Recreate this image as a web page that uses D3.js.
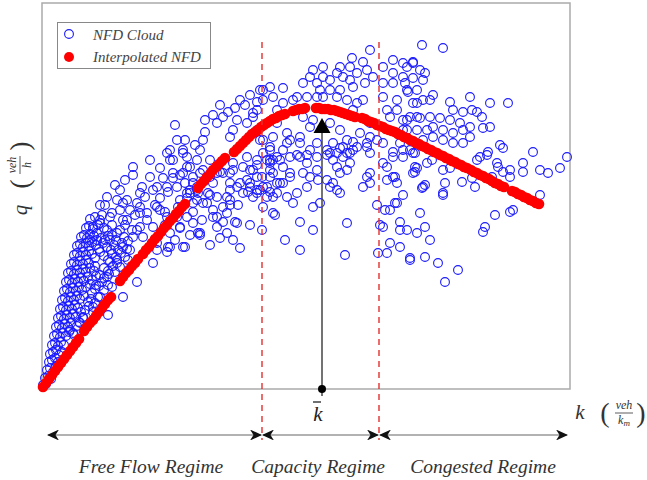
<!DOCTYPE html>
<html>
<head>
<meta charset="utf-8">
<script src="https://cdn.jsdelivr.net/npm/d3@7"></script>
<style>
  body { margin: 0; background: #fff; }
  text { font-family: "Liberation Serif", "DejaVu Serif", serif; font-style: italic; }
</style>
</head>
<body>
<svg width="647" height="480"></svg>
<script>
// density k (veh/km) and flow q (veh/h) of the NFD cloud
const cloud = [
  [1,40],[4,50],[3,110],[6,130],[9,100],[5,190],[8,210],[11,170],[14,230],[7,270],[10,290],[13,310],[16,270],
  [8,350],[11,370],[14,390],[17,340],[20,370],[10,440],[13,460],[16,430],[19,470],[22,440],[12,530],[15,550],
  [18,520],[21,560],[24,530],[27,570],[14,620],[17,640],[20,610],[23,650],[26,620],[29,660],[16,710],[19,730],
  [22,700],[25,740],[28,710],[31,750],[34,720],[18,800],[21,820],[24,790],[27,830],[30,800],[33,840],[36,810],
  [43,790],[20,890],[23,910],[26,880],[29,920],[32,890],[35,930],[38,900],[46,870],[22,980],[25,1000],[28,970],
  [31,1010],[34,980],[37,1020],[40,990],[50,960],[24,1070],[27,1090],[30,1060],[33,1100],[36,1070],[39,1110],
  [42,1080],[54,1040],[60,1070],[26,1160],[29,1180],[32,1150],[35,1190],[38,1160],[41,1200],[44,1170],[58,1140],
  [73,1170],[29,1250],[32,1270],[35,1240],[38,1280],[41,1250],[44,1290],[47,1260],[53,1230],[68,1270],[78,1220],
  [32,1340],[35,1360],[38,1330],[41,1370],[44,1340],[47,1380],[50,1350],[58,1370],[70,1350],[83,1320],[35,1430],
  [38,1450],[41,1420],[44,1460],[47,1430],[50,1470],[54,1440],[61,1460],[76,1390],[39,1520],[42,1540],[45,1510],
  [48,1550],[52,1530],[59,1510],[66,1530],[44,1610],[47,1630],[51,1600],[56,1640],[62,1610],[48,1700],[53,1720],
  [58,1690],[28,590],[32,540],[35,630],[37,670],[41,710],[39,770],[47,830],[51,770],[42,930],[49,900],[53,860],
  [56,920],[44,1020],[48,1050],[53,1000],[57,1030],[62,990],[66,1040],[46,1120],[50,1090],[54,1130],[62,1110],
  [67,1150],[48,1210],[52,1180],[62,1210],[66,1180],[71,1230],[75,1260],[53,1310],[62,1330],[66,1290],[74,1320],
  [79,1360],[86,1290],[57,1400],[65,1420],[69,1390],[72,1440],[80,1460],[85,1400],[63,1490],[70,1540],[74,1490],
  [82,1520],[86,1480],
  [91,2220],[91,2140],[65,1920],[78,1990],[75,1890],[85,1890],[98,1960],[108,2120],[111,1990],[121,2110],[131,2110],
  [126,1970],[135,2020],[118,1910],[98,1820],[105,1760],[88,1790],[78,1790],[70,1760],[60,1740],[51,1620],[48,1490],
  [55,1560],[65,1590],[68,1490],[78,1590],[85,1690],[90,1590],[98,1620],[101,1520],[118,1790],[125,1720],[138,1620],
  [141,1420],[126,1420],[115,1390],[111,1260],[95,1070],[81,920],[66,740],[88,1390],[75,1290],[65,1120],[70,1020],
  [58,920],[51,820],[41,720],[38,660],[31,560],[125,2360],[131,2290],[141,2360],[145,2220],[151,2120],[155,1990],
  [151,1860],[151,1770],[156,1560],[136,1820],
  [133,2640],[81,1860],[95,1860],[100,2020],[115,2020],[125,2020],[128,2290],[128,2390],[135,2490],[141,2390],
  [145,2320],[148,2220],[155,2290],[158,2390],[161,2490],[163,2570],[171,2740],[175,2660],[181,2720],[188,2520],
  [191,2590],[195,2690],[193,2810],[203,2840],[211,2760],[205,2660],[215,2590],[221,2990],[228,3020],[221,2890],
  [231,2920],[241,3010],[241,2860],[235,2790],[221,2490],[228,2390],[241,2390],[231,2290],[241,2220],[228,2120],
  [238,2060],[221,2020],[215,1960],[208,2020],[201,1960],[195,2020],[188,1990],[181,2160],[191,2190],[201,2220],
  [211,2190],[175,2160],[168,2120],[161,2190],[148,1960],[155,1890],[161,1860],[171,1790],[175,1720],[185,1760],
  [195,1660],[185,1560],[175,1620],[158,1560],[145,1960],[138,1890],[135,1720],[138,1610],[128,1560],[128,1420],
  [125,1370],[115,1460],[111,1620],[105,1690],[98,1760],[115,1820],[123,1770],[95,1590],[81,1690],[68,1720],
  [58,1660],[55,1490],[81,1420],[91,1520],[75,1560],[198,1410],[143,1420],[231,1760],[191,1490],[221,1820],
  [185,1920],[166,1960],[245,2560],[235,2660],[245,2460],[228,2260],[131,2160],[155,2020],
  [380,3440],[328,3390],[310,3310],[321,3270],[308,3220],[298,3220],[281,3220],[271,3190],[268,3120],[281,3120],
  [288,3090],[295,3160],[301,3120],[308,3090],[315,3160],[325,3190],[331,3120],[323,3060],[311,3020],[298,2990],
  [288,2990],[278,2990],[275,3060],[261,3060],[255,2920],[265,2920],[275,2920],[281,2920],[295,2920],[305,2890],
  [315,2860],[321,2890],[311,2790],[251,2890],[215,2790],[211,2720],[341,3220],[351,3290],[361,3260],[371,3260],
  [378,3190],[351,3160],[361,3120],[381,3090],[341,3060],[351,3060],[365,2990],[375,2990],[341,2920],[355,2890],
  [381,2890],[371,2860],[345,2790],[355,2790],[348,2720],[365,2690],[375,2720],[218,2490],[231,2520],[258,2520],
  [268,2620],[261,2720],[271,2690],[288,2660],[298,2590],[305,2490],[318,2560],[328,2520],[335,2490],[301,2420],
  [291,2460],[285,2390],[275,2460],[268,2390],[258,2460],[248,2490],[228,2420],[221,2360],[215,2290],[228,2290],
  [238,2290],[248,2320],[258,2320],[265,2260],[275,2320],[288,2360],[291,2290],[301,2320],[308,2360],[315,2420],
  [328,2360],[308,2260],[325,2460],[275,2190],[268,2120],[261,2160],[248,2120],[241,2060],[235,2060],[225,2020],
  [215,1990],[225,1920],[235,1960],[245,1920],[255,1960],[265,2020],[285,2090],[288,2020],[298,1960],[295,2220],
  [305,2190],[325,2120],[328,2060],[251,1860],[278,1860],[271,1820],[258,1670],[271,1590],[305,1660],[335,1840],
  [343,1790],[348,1790],[355,1860],[361,1940],[351,2120],[345,2090],[375,2210],[371,2160],[381,2020],[378,1760],
  [341,1620],[358,1590],[365,1590],[375,1560],[348,1460],[336,1360],[345,1360],[368,1290],[383,1320],[351,2320],
  [361,2320],[368,2390],[355,2560],[341,2460],[341,2260],[345,2220],[385,2260],[385,2590],[361,2590],[381,2490],
  [328,2660],[218,2990],[228,2190],[215,2120],[208,2060],
  [401,3410],[371,3270],[365,3220],[383,3160],[371,3110],[363,3060],[366,2970],[391,2940],[388,2890],[375,2860],
  [408,2870],[428,2920],[448,2860],[466,2860],[411,2790],[421,2770],[430,2790],[435,2770],[440,2720],[448,2620],
  [441,2610],[428,2620],[418,2660],[408,2690],[398,2710],[388,2720],[378,2710],[368,2720],[361,2690],[391,2620],
  [401,2590],[411,2560],[421,2590],[428,2520],[421,2460],[411,2460],[401,2490],[391,2520],[375,2590],[365,2590],
  [358,2460],[373,2360],[361,2390],[390,2290],[401,2190],[408,2210],[438,2320],[446,2370],[458,2440],[461,2410],
  [455,2260],[456,2220],[468,2190],[468,2120],[481,2260],[491,2370],[481,2170],[498,2190],[506,2160],[518,2210],
  [525,2320],[450,2120],[430,2110],[420,2070],[433,2020],[403,2060],[401,1940],[383,2040],[380,2010],[373,2220],
  [373,2170],[498,1940],[471,1790],[453,1740],[443,1620],[441,1570],[383,1620],[388,1490],[368,1310],[396,1260],
  [416,1190],[358,1670],[358,1420],
  [158,1540],[160,1690],[181,1670],[193,1670],[171,1720],[188,1840],[196,1840],[181,1820],[165,1860],[145,1910],
  [233,1740],[231,1920],[295,1990],[291,2060],[276,2090],[298,2160],[321,2020],[228,1970],[218,1990],[211,1920],
  [206,1970],[220,2120],[231,2160],[248,2160],[205,2090],[198,2060],[188,2060],[188,2160],[178,2170],[171,2060],
  [168,1940],[156,1960],[148,1990],[151,2060],[143,2060],[141,2160],[158,2160],[188,1890],[175,1920],[145,1720],
  [151,1660],[191,2260],[205,2320],[208,2190],[215,2240],[225,2290],[235,2320],[255,2340],[265,2340],[285,2340],
  [295,2360],[305,2360],[311,2390],[325,2420],[311,2470],[298,2410],
  [353,1860],[355,2060],[353,2120],[401,1960],[403,1070],[468,1770],[328,2160],[445,2340],[461,2170],[435,2290],
  [371,2360],[351,2370],[338,1640],
  [73,2040],[83,2090],[63,1840],[103,1920],[113,1840],[93,1740],[83,1640],[108,2290],[118,2210],[143,2490],
  [153,2440],[163,2690],[178,2840],[186,2770],[198,2890],[208,2940],[215,2870],[168,2290],[138,2140],[123,1640],
  [133,1490],[148,1540],[168,1440],[178,1510],[208,1640],[220,1590],[243,1490],[258,1390],[303,1340],[70,1640],
  [58,1840]
];

// interpolated NFD points (k, q)
const nfd = [
  [1,20],[4,60],[7,100],
  [10,140],[13,180],[16,220],[19,260],[22,300],[25,340],[28,380],[31,420],[34,460],[37,500],
  [42,580],[45,620],[48,660],[51,690],[54,730],[57,770],[60,810],[63,850],[66,890],[69,920],
  [78,1080],[81,1120],[84,1160],[87,1190],[90,1230],[93,1260],[96,1300],
  [101,1350],[104,1390],[107,1420],[110,1460],[113,1500],[116,1530],[119,1570],[122,1610],[125,1640],[128,1680],
  [131,1710],[134,1750],[137,1780],[140,1820],[143,1850],
  [156,2010],[159,2050],[162,2080],[165,2120],[168,2150],[171,2190],[174,2220],[177,2250],[180,2280],[183,2310],
  [192,2370],[195,2400],[198,2430],[201,2460],[204,2490],[207,2520],[210,2550],[213,2570],[216,2590],[219,2620],
  [222,2640],[225,2660],[228,2680],[231,2700],[234,2710],[237,2730],[240,2740],[243,2750],
  [251,2780],[254,2790],[257,2800],[260,2800],[263,2810],
  [274,2810],[277,2810],[280,2800],[283,2800],[286,2800],[289,2790],[292,2790],[295,2780],[298,2770],[301,2760],
  [304,2750],[307,2740],[310,2730],[313,2720],
  [320,2710],[323,2700],[326,2680],[329,2670],[332,2660],[335,2640],[338,2630],[341,2620],[344,2600],[347,2590],
  [350,2580],[353,2570],[356,2550],[359,2540],[362,2520],[365,2510],[368,2490],[371,2480],[374,2460],[377,2450],
  [380,2430],[383,2420],[386,2400],[389,2390],[392,2370],[395,2360],[398,2340],[401,2330],[404,2310],[407,2300],
  [410,2280],[413,2270],[416,2250],[419,2240],[422,2220],[425,2210],
  [429,2190],[432,2170],[435,2160],[438,2140],[441,2130],[444,2110],[447,2100],[450,2080],[453,2060],[456,2050],
  [459,2030],[462,2020],
  [470,1980],[473,1970],[476,1950],[479,1940],[482,1920],[485,1910],[488,1890],[491,1880],[494,1860],[497,1850]
];

const kCritical = [220, 337];   // regime borders
const kBar = 280;               // k bar
const qBar = 2710;              // top of the k bar arrow
const regimes = [
  { name: "Free Flow Regime", from: 5, to: 220, label: 109 },
  { name: "Capacity Regime", from: 220, to: 337, label: 276 },
  { name: "Congested Regime", from: 337, to: 526, label: 441 }
];
const legendItems = ["NFD Cloud", "Interpolated NFD"];

const svg = d3.select("svg");
const x = d3.scaleLinear().domain([0, 528]).range([42, 570]);
const y = d3.scaleLinear().domain([0, 3860]).range([389, 3]);

// stealth arrow head for the regime arrows
svg.append("defs").append("marker")
    .attr("id", "stealth")
    .attr("viewBox", "0 -5 12 10")
    .attr("refX", 11)
    .attr("refY", 0)
    .attr("markerUnits", "userSpaceOnUse")
    .attr("markerWidth", 12)
    .attr("markerHeight", 10)
    .attr("orient", "auto-start-reverse")
  .append("path")
    .attr("d", "M12,0L0,-5.5L3.5,0L0,5.5Z")
    .attr("fill", "#111");

// plot frame
svg.append("rect")
    .attr("x", x(0)).attr("y", y(3860))
    .attr("width", x(528) - x(0)).attr("height", y(0) - y(3860))
    .attr("fill", "none")
    .attr("stroke", "#aaa")
    .attr("stroke-width", 1.5);

// cloud
svg.append("g").selectAll("circle")
    .data(cloud)
    .enter().append("circle")
    .attr("cx", d => x(d[0]))
    .attr("cy", d => y(d[1]))
    .attr("r", 4.4)
    .attr("fill", "none")
    .attr("stroke", "#1a1aff")
    .attr("stroke-width", 1.1);

// interpolated NFD
svg.append("g").selectAll("circle")
    .data(nfd)
    .enter().append("circle")
    .attr("cx", d => x(d[0]))
    .attr("cy", d => y(d[1]))
    .attr("r", 5.3)
    .attr("fill", "#ff0000");

// regime borders
svg.append("g").selectAll("line")
    .data(kCritical)
    .enter().append("line")
    .attr("x1", d => x(d)).attr("x2", d => x(d))
    .attr("y1", 42).attr("y2", 440)
    .attr("stroke", "#e53030")
    .attr("stroke-width", 1.4)
    .attr("stroke-dasharray", "6,5");

// k bar arrow
svg.append("line")
    .attr("x1", x(kBar)).attr("x2", x(kBar))
    .attr("y1", y(0) + 7).attr("y2", y(qBar) + 10)
    .attr("stroke", "#444")
    .attr("stroke-width", 1.5);
svg.append("path")
    .attr("d", `M${x(kBar)},${y(qBar)}L${x(kBar) - 8.5},${y(qBar) + 15}L${x(kBar) + 8.5},${y(qBar) + 15}Z`)
    .attr("fill", "#000");
svg.append("circle")
    .attr("cx", x(kBar)).attr("cy", y(0))
    .attr("r", 4)
    .attr("fill", "#000");
svg.append("text")
    .attr("x", x(kBar) - 4).attr("y", 421)
    .attr("text-anchor", "middle")
    .attr("font-size", 21)
    .attr("fill", "#222")
    .text("k");
svg.append("line")
    .attr("x1", x(kBar) - 9).attr("x2", x(kBar) - 1)
    .attr("y1", 402).attr("y2", 402)
    .attr("stroke", "#222")
    .attr("stroke-width", 1.3);

// regime arrows and names
const reg = svg.append("g").selectAll("g")
    .data(regimes)
    .enter().append("g");
reg.append("line")
    .attr("x1", d => x(d.from) + 1).attr("x2", d => x(d.to) - 1)
    .attr("y1", 435).attr("y2", 435)
    .attr("stroke", "#999")
    .attr("stroke-width", 1.5)
    .attr("marker-start", "url(#stealth)")
    .attr("marker-end", "url(#stealth)");
reg.append("text")
    .attr("x", d => x(d.label))
    .attr("y", 473)
    .attr("text-anchor", "middle")
    .attr("font-size", 19.5)
    .attr("fill", "#333")
    .text(d => d.name);

// x label: k (veh / km)
const xl = svg.append("g").attr("fill", "#333");
xl.append("text").attr("x", 580).attr("y", 419).attr("text-anchor", "middle")
    .attr("font-size", 21).text("k");
xl.append("text").attr("x", 605).attr("y", 422).attr("text-anchor", "middle")
    .attr("font-size", 28).style("font-style", "normal").text("(");
xl.append("text").attr("x", 624).attr("y", 409).attr("text-anchor", "middle")
    .attr("font-size", 12).text("veh");
xl.append("line").attr("x1", 615).attr("x2", 633).attr("y1", 413).attr("y2", 413)
    .attr("stroke", "#333").attr("stroke-width", 0.8);
xl.append("text").attr("x", 624).attr("y", 424).attr("text-anchor", "middle")
    .attr("font-size", 12)
    .call(t => { t.append("tspan").text("k"); t.append("tspan").attr("font-size", 9).attr("dy", 2).text("m"); });
xl.append("text").attr("x", 641).attr("y", 422).attr("text-anchor", "middle")
    .attr("font-size", 28).style("font-style", "normal").text(")");

// y label: q (veh / h)
const yl = svg.append("g").attr("fill", "#333")
    .attr("transform", "translate(20,165) rotate(-90)");
yl.append("text").attr("x", -45).attr("y", 7).attr("text-anchor", "middle")
    .attr("font-size", 21).text("q");
yl.append("text").attr("x", -19).attr("y", 9).attr("text-anchor", "middle")
    .attr("font-size", 28).style("font-style", "normal").text("(");
yl.append("text").attr("x", 0).attr("y", -4).attr("text-anchor", "middle")
    .attr("font-size", 12).text("veh");
yl.append("line").attr("x1", -9).attr("x2", 9).attr("y1", 0).attr("y2", 0)
    .attr("stroke", "#333").attr("stroke-width", 0.8);
yl.append("text").attr("x", 0).attr("y", 11).attr("text-anchor", "middle")
    .attr("font-size", 12).text("h");
yl.append("text").attr("x", 19).attr("y", 9).attr("text-anchor", "middle")
    .attr("font-size", 28).style("font-style", "normal").text(")");

// legend
const lg = svg.append("g");
lg.append("rect")
    .attr("x", 57.5).attr("y", 22.5).attr("width", 153).attr("height", 46)
    .attr("fill", "#fff").attr("stroke", "#888").attr("stroke-width", 1);
lg.append("circle").attr("cx", 69).attr("cy", 34).attr("r", 4.4)
    .attr("fill", "none").attr("stroke", "#1a1aff").attr("stroke-width", 1.1);
lg.append("circle").attr("cx", 69).attr("cy", 57).attr("r", 5).attr("fill", "#ff0000");
lg.selectAll("text")
    .data(legendItems)
    .enter().append("text")
    .attr("x", 93)
    .attr("y", (d, i) => 40 + i * 22)
    .attr("font-size", 15)
    .attr("fill", "#444")
    .text(d => d);
</script>
</body>
</html>
